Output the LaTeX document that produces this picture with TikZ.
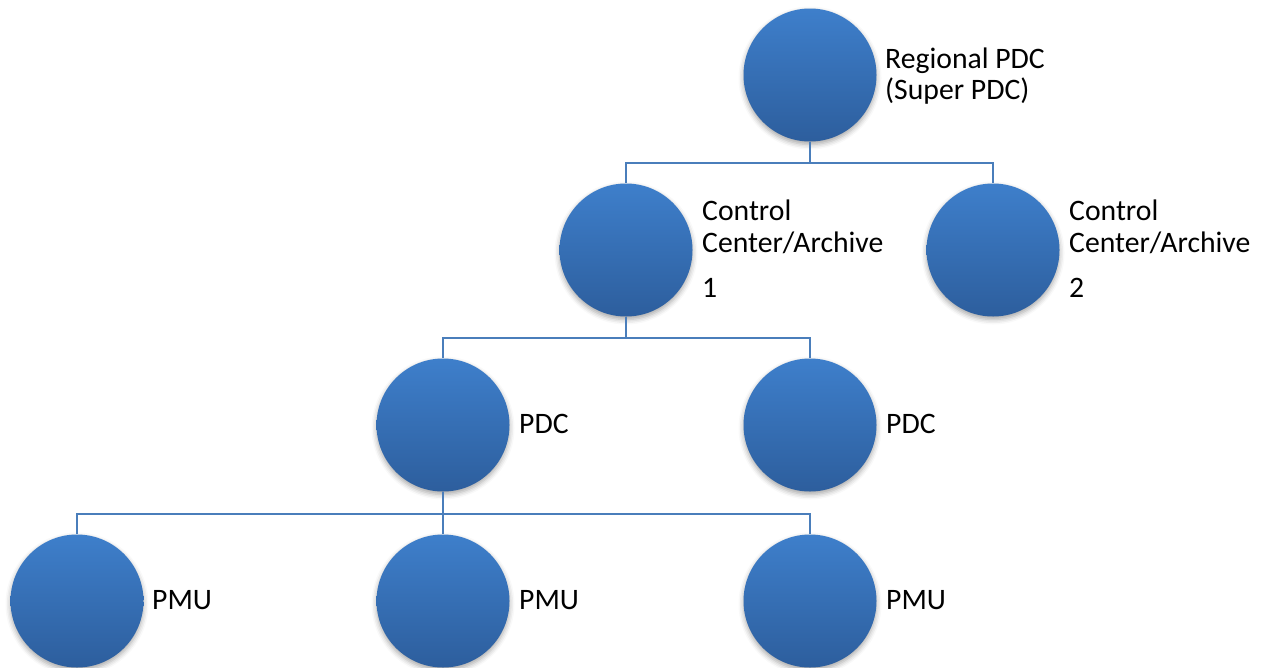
\documentclass[tikz,border=0pt]{standalone}
\usepackage{fontspec}
\setmainfont{Carlito}
\usetikzlibrary{shadows.blur}
\definecolor{ballTop}{RGB}{62,127,203}
\definecolor{ballBottom}{RGB}{45,94,157}
\definecolor{linkBlue}{RGB}{74,126,187}
\tikzset{
  ball/.style={circle, minimum size=133pt, inner sep=0pt, draw=none,
    top color=ballTop, bottom color=ballBottom,
    blur shadow={shadow xshift=0pt, shadow yshift=-3pt,
      shadow blur radius=5pt, shadow opacity=35}},
  caption/.style={anchor=base west, inner sep=0pt,
    font=\fontsize{29.7}{32}\selectfont, text=black},
  link/.style={draw=linkBlue, line width=2pt}
}
\begin{document}
\begin{tikzpicture}[x=1pt, y=-1pt]
  \useasboundingbox (0,0) rectangle (1263,667);

  % nodes
  \node[ball] (reg) at (810,75) {};
  \node[ball] (cc1) at (626,250) {};
  \node[ball] (cc2) at (993,250) {};
  \node[ball] (pdc1) at (443,425) {};
  \node[ball] (pdc2) at (810,425) {};
  \node[ball] (pmu1) at (77,601) {};
  \node[ball] (pmu2) at (443,601) {};
  \node[ball] (pmu3) at (810,601) {};

  % captions
  \node[caption] (regA) at (885,68) {Regional PDC};
  \node[caption] (regB) at (885,99.5) {(Super PDC)};
  \node[caption] (cc1A) at (702,220) {Control};
  \node[caption] (cc1B) at (702,252.7) {Center/Archive};
  \node[caption] (cc1C) at (702,297) {1};
  \node[caption] (cc2A) at (1069,220) {Control};
  \node[caption] (cc2B) at (1069,252.7) {Center/Archive};
  \node[caption] (cc2C) at (1069,297) {2};
  \node[caption] (pdc1t) at (519,433) {PDC};
  \node[caption] (pdc2t) at (886,433) {PDC};
  \node[caption] (pmu1t) at (152,609) {PMU};
  \node[caption] (pmu2t) at (519,609) {PMU};
  \node[caption] (pmu3t) at (886,609) {PMU};

  % junction points of the tree connectors
  \coordinate (j1) at (reg.south |- 0,163);
  \coordinate (j2) at (cc1.south |- 0,338);
  \coordinate (j3) at (pdc1.south |- 0,514);

  % connectors
  \draw[link] (reg.south) -- (j1) -| (cc1.north);
  \draw[link] (j1) -| (cc2.north);
  \draw[link] (cc1.south) -- (j2) -| (pdc1.north);
  \draw[link] (j2) -| (pdc2.north);
  \draw[link] (pdc1.south) -- (pmu2.north);
  \draw[link] (j3) -| (pmu1.north);
  \draw[link] (j3) -| (pmu3.north);
\end{tikzpicture}
\end{document}
